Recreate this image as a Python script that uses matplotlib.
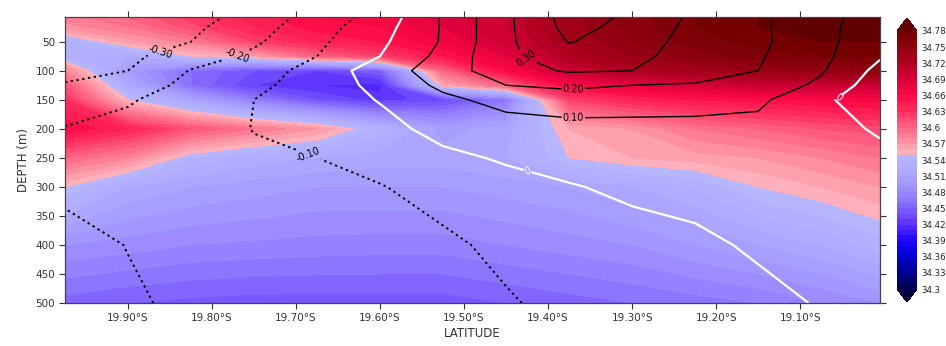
import numpy as np
import matplotlib
matplotlib.use("Agg")
from matplotlib import pyplot as plt
from matplotlib.colors import LinearSegmentedColormap, Normalize

# grid of the section
lats = [-19.975, -19.90, -19.825, -19.75, -19.675, -19.60, -19.525,
        -19.45, -19.375, -19.30, -19.225, -19.15, -19.075, -19.005]
depths = [7.5, 25, 50, 75, 100, 125, 150, 200, 250, 300, 400, 500]

# salinity (rows = depths, cols = lats)
salinity = [
    [34.585, 34.60, 34.625, 34.645, 34.66, 34.665, 34.685, 34.70, 34.735, 34.755, 34.77, 34.78, 34.785, 34.79],
    [34.575, 34.59, 34.615, 34.64, 34.655, 34.66, 34.68, 34.70, 34.735, 34.755, 34.77, 34.78, 34.785, 34.785],
    [34.53, 34.565, 34.585, 34.62, 34.64, 34.65, 34.67, 34.695, 34.73, 34.75, 34.765, 34.775, 34.78, 34.78],
    [34.535, 34.52, 34.55, 34.565, 34.60, 34.62, 34.65, 34.68, 34.72, 34.74, 34.755, 34.765, 34.77, 34.77],
    [34.58, 34.50, 34.46, 34.44, 34.43, 34.45, 34.60, 34.66, 34.70, 34.72, 34.73, 34.74, 34.745, 34.75],
    [34.61, 34.52, 34.46, 34.43, 34.42, 34.415, 34.56, 34.60, 34.66, 34.68, 34.69, 34.70, 34.70, 34.70],
    [34.63, 34.55, 34.51, 34.47, 34.44, 34.425, 34.435, 34.465, 34.62, 34.64, 34.65, 34.655, 34.66, 34.665],
    [34.66, 34.64, 34.61, 34.59, 34.57, 34.535, 34.505, 34.515, 34.56, 34.57, 34.59, 34.60, 34.61, 34.615],
    [34.60, 34.58, 34.54, 34.525, 34.52, 34.515, 34.515, 34.52, 34.55, 34.56, 34.565, 34.57, 34.58, 34.59],
    [34.55, 34.52, 34.51, 34.505, 34.50, 34.50, 34.50, 34.505, 34.51, 34.52, 34.53, 34.55, 34.56, 34.57],
    [34.49, 34.485, 34.48, 34.478, 34.476, 34.475, 34.475, 34.48, 34.485, 34.49, 34.50, 34.51, 34.52, 34.535],
    [34.455, 34.45, 34.447, 34.445, 34.445, 34.445, 34.445, 34.45, 34.455, 34.46, 34.465, 34.47, 34.48, 34.49],
]

# velocity (rows = depths, cols = lats)
velocity = [
    [-0.40, -0.38, -0.34, -0.26, -0.16, -0.06, 0.11, 0.28, 0.44, 0.385, 0.28, 0.22, 0.125, 0.06],
    [-0.38, -0.36, -0.32, -0.24, -0.14, -0.04, 0.11, 0.28, 0.43, 0.37, 0.27, 0.22, 0.125, 0.05],
    [-0.36, -0.34, -0.30, -0.215, -0.12, -0.02, 0.11, 0.28, 0.405, 0.35, 0.26, 0.22, 0.13, 0.03],
    [-0.34, -0.32, -0.25, -0.18, -0.10, 0.0, 0.13, 0.28, 0.36, 0.33, 0.25, 0.21, 0.125, 0.01],
    [-0.32, -0.30, -0.195, -0.15, -0.06, 0.05, 0.15, 0.26, 0.31, 0.30, 0.23, 0.20, 0.11, -0.03],
    [-0.295, -0.26, -0.17, -0.12, -0.06, 0.03, 0.12, 0.20, 0.22, 0.20, 0.195, 0.16, 0.08, -0.06],
    [-0.26, -0.21, -0.15, -0.10, -0.05, 0.005, 0.08, 0.13, 0.15, 0.145, 0.14, 0.12, 0.02, -0.065],
    [-0.195, -0.17, -0.13, -0.098, -0.06, -0.03, 0.03, 0.06, 0.07, 0.07, 0.07, 0.07, 0.015, -0.005],
    [-0.18, -0.15, -0.125, -0.11, -0.10, -0.06, -0.02, 0.01, 0.03, 0.04, 0.045, 0.05, 0.025, 0.01],
    [-0.185, -0.16, -0.13, -0.12, -0.11, -0.105, -0.06, -0.03, -0.005, 0.015, 0.025, 0.035, 0.02, 0.015],
    [-0.225, -0.198, -0.17, -0.155, -0.145, -0.135, -0.12, -0.075, -0.045, -0.03, -0.015, 0.01, 0.015, 0.015],
    [-0.25, -0.21, -0.185, -0.175, -0.16, -0.14, -0.125, -0.11, -0.07, -0.06, -0.045, -0.02, 0.005, 0.01],
]

lat_ticks = [-19.9, -19.8, -19.7, -19.6, -19.5, -19.4, -19.3, -19.2, -19.1]
depth_ticks = [50, 100, 150, 200, 250, 300, 350, 400, 450, 500]
cbar_ticks = [34.30, 34.33, 34.36, 34.39, 34.42, 34.45, 34.48, 34.51, 34.54,
              34.57, 34.60, 34.63, 34.66, 34.69, 34.72, 34.75, 34.78]

# blue -> lavender | pink -> dark red
smin, smax = 34.30, 34.78
nodes = [
    (34.30, "#000050"), (34.33, "#000090"), (34.36, "#0000d0"), (34.39, "#2000ff"),
    (34.42, "#5a30ff"), (34.45, "#7f60ff"), (34.48, "#9a88ff"), (34.51, "#aaa4ff"),
    (34.549, "#b8b8ff"), (34.551, "#ffb8c0"), (34.57, "#ff98a8"), (34.60, "#ff6585"),
    (34.63, "#ff3060"), (34.66, "#ff0a45"), (34.69, "#d8003a"), (34.72, "#b00020"),
    (34.75, "#900010"), (34.78, "#700000"),
]
cmap = LinearSegmentedColormap.from_list(
    "sal", [((v - smin) / (smax - smin), c) for v, c in nodes])
cmap.set_over("#600000")
cmap.set_under("#000040")

fig = plt.figure(figsize=(9.46, 3.46), dpi=100)
ax = fig.add_axes([65 / 946, 1 - 303 / 346, 815 / 946, 286 / 346])

levels = np.round(np.arange(34.30, 34.7801, 0.01), 2)
cf = ax.contourf(lats, depths, salinity, levels=levels, cmap=cmap,
                 norm=Normalize(smin, smax), extend="both")

neg = ax.contour(lats, depths, velocity, levels=[-0.3, -0.2, -0.1], colors="k",
                 linewidths=1.4, linestyles=[(0, (1.2, 1.8))])
zero = ax.contour(lats, depths, velocity, levels=[0], colors="white",
                  linewidths=1.6, linestyles="solid")
pos = ax.contour(lats, depths, velocity, levels=[0.1, 0.2, 0.3, 0.4], colors="k",
                 linewidths=1.0, linestyles="solid")

ax.clabel(neg, fmt="%.2f", fontsize=7, inline=True, inline_spacing=1,
          manual=[(-19.862, 64), (-19.770, 73), (-19.687, 250)])
ax.clabel(zero, fmt="%g", fontsize=7, inline=True, inline_spacing=1,
          manual=[(-19.424, 271), (-19.055, 145)])
ax.clabel(pos, fmt="%.2f", fontsize=7, inline=True, inline_spacing=1,
          manual=[(-19.370, 168), (-19.370, 130), (-19.430, 90)])

ax.set_xlim(-19.975, -19.005)
ax.set_ylim(500, 7.5)
ax.set_xticks(lat_ticks)
ax.set_xticklabels([f"{abs(v):.2f}°S" for v in lat_ticks])
ax.set_yticks(depth_ticks)
ax.tick_params(direction="out", top=True, right=True, length=4, width=0.8,
               labelsize=7.5, colors="#333333", pad=3)
for s in ax.spines.values():
    s.set_color("#444444")
    s.set_linewidth(0.9)
ax.set_xlabel("LATITUDE", fontsize=8.5, color="#333333", labelpad=3)
ax.set_ylabel("DEPTH (m)", fontsize=8.5, color="#333333", labelpad=4)

cax = fig.add_axes([897 / 946, 1 - 302 / 346, 20 / 946, 284 / 346])
cb = fig.colorbar(cf, cax=cax, ticks=cbar_ticks)
cb.ax.set_yticklabels([f"{v:g}" for v in cbar_ticks])
cb.ax.tick_params(length=0, labelsize=6.2, colors="#222222", pad=3)
cb.outline.set_visible(False)

fig.savefig("out.png", dpi=100)
